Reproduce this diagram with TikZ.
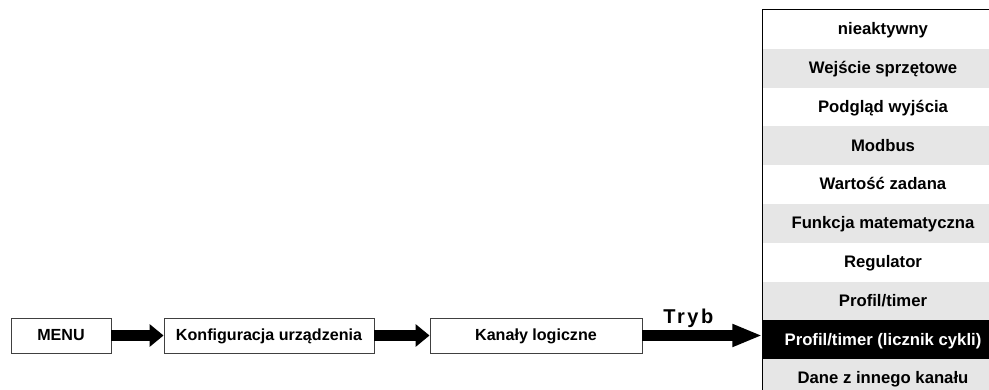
\documentclass[tikz,border=0pt]{standalone}
\usepackage{fontspec}
\setmainfont{Liberation Sans}
\usetikzlibrary{arrows.meta,positioning}
\definecolor{rowgray}{HTML}{E6E6E6}
\begin{document}
\begin{tikzpicture}[
    x=1pt,y=-1pt,
    font=\bfseries\fontsize{16.1}{18}\selectfont,
    menubox/.style={draw=black!75,line width=0.9pt,minimum height=35pt,inner sep=0pt,
        text height=11.5pt,text depth=1.5pt},
    listrow/.style={minimum width=241pt,minimum height=38.8pt,inner sep=0pt,
        text height=12pt,text depth=1.5pt,
        font=\bfseries\fontsize{16.7}{18}\selectfont},
    bigarrow/.style={line width=10.5pt,-{Triangle[length=14pt,width=22pt]}},
]
    \useasboundingbox (0,0) rectangle (989,390);
    \clip (0,0) rectangle (989,390);
    \node[menubox,minimum width=100pt] (menu) at (61,335.5) {MENU};
    \node[menubox,minimum width=210pt] (konf) at (269,335.5) {Konfiguracja urządzenia};
    \node[menubox,minimum width=212pt] (kanaly) at (536,335.5) {Kanały logiczne};
    % lista trybow
    \foreach \txt/\bg/\fg [count=\row] in {
        nieaktywny/white/black,
        Wejście sprzętowe/rowgray/black,
        Podgląd wyjścia/white/black,
        Modbus/rowgray/black,
        Wartość zadana/white/black,
        Funkcja matematyczna/rowgray/black,
        Regulator/white/black,
        {Profil/timer}/rowgray/black,
        {Profil/timer (licznik cykli)}/black/white,
        Dane z innego kanału/rowgray/black}
        \node[listrow,fill=\bg,text=\fg] (r\row) at (883,{10+38.8*(\row-0.5)}) {\txt};
    \draw[line width=1.2pt] (r1.north west) rectangle (r10.south east);
    % strzalki
    \draw[bigarrow] (menu.east) -- (konf.west);
    \draw[bigarrow] (konf.east) -- (kanaly.west);
    \draw[bigarrow,-{Triangle[length=30pt,width=21pt]}] (kanaly.east) -- (kanaly.east -| r9.west)
        node[pos=0.383,anchor=base,yshift=11.5pt,inner sep=0pt,
            font=\bfseries\fontsize{20}{22}\selectfont\addfontfeatures{LetterSpace=13}] (tryb) {Tryb};
\end{tikzpicture}
\end{document}
